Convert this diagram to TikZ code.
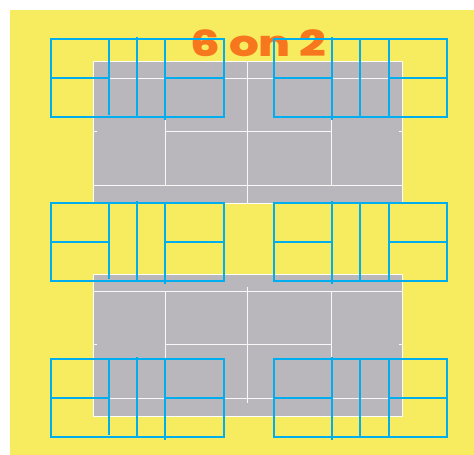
\documentclass[tikz,border=0pt]{standalone}
\usepackage{fontspec}
\newfontfamily\titlefont[FakeStretch=1.3]{Poppins ExtraBold}
\definecolor{fieldyellow}{HTML}{F7EC5F}
\definecolor{courtgray}{HTML}{B9B7BB}
\definecolor{gridblue}{HTML}{00AEEF}
\definecolor{titleorange}{HTML}{F7771F}
\newcommand\gridH[3]{\fill[gridbar] (#1,#3) rectangle (#2,#3+2);}
\newcommand\gridV[3]{\fill[gridbar] (#1,#2) rectangle (#1+2,#3);}
\tikzset{
  field/.style={fill=fieldyellow,draw=none},
  court/.style={fill=courtgray,draw=white,line width=1pt},
  courtline/.style={draw=white!90!courtgray,line width=1pt},
  gridbar/.style={fill=gridblue,draw=none},
  pics/gridbox/.style={code={
    \gridH{0}{175}{0}
    \gridH{0}{175}{78}
    \gridH{0}{60}{39}
    \gridH{114}{175}{39}
    \gridV{0}{0}{80}
    \gridV{173}{0}{80}
    \gridV{58}{0}{77}
    \gridV{86}{-1}{80}
    \gridV{114}{0}{82}
  }},
  pics/gridboxr/.style={code={
    \gridH{0}{175}{0}
    \gridH{0}{175}{78}
    \gridH{0}{60}{39}
    \gridH{115}{175}{39}
    \gridV{0}{0}{80}
    \gridV{173}{0}{80}
    \gridV{58}{-1}{82}
    \gridV{86}{0}{80}
    \gridV{115}{0}{80}
  }}
}
\begin{document}
\begin{tikzpicture}[x=1pt,y=-1pt]
\useasboundingbox (0,0) rectangle (474,455);
\fill[field] (10,10) rectangle (474,455);
% upper court
\draw[court] (93.8,61) rectangle (402,203);
\draw[courtline] (94,78) -- (402,78);
\draw[courtline] (94,185) -- (402,185);
\draw[courtline] (165,118) -- (165,185);
\draw[courtline] (331,118) -- (331,185);
\draw[courtline] (165,131.5) -- (331,131.5);
\draw[courtline] (247.5,61) -- (247.5,203);
\draw[courtline] (94,131.5) -- (97,131.5);
\draw[courtline] (399,131.5) -- (402,131.5);
% lower court
\draw[court] (93.8,274) rectangle (402,416);
\draw[courtline] (94,291.3) -- (402,291.3);
\draw[courtline] (94,398) -- (402,398);
\draw[courtline] (165,291.3) -- (165,358);
\draw[courtline] (331,291.3) -- (331,358);
\draw[courtline] (165,344.3) -- (331,344.3);
\draw[courtline] (247.5,287) -- (247.5,403);
\draw[courtline] (94,344.3) -- (97,344.3);
\draw[courtline] (399,344.3) -- (402,344.3);
% title
\node[text=titleorange,font=\titlefont\fontsize{36}{36}\selectfont,inner sep=0pt,anchor=base] (title) at (258.5,56.5) {6 on 2};
% grids
\pic at (50,38) {gridbox};
\pic at (273,38) {gridboxr};
\pic at (50,202) {gridbox};
\pic at (273,202) {gridboxr};
\pic at (50,358) {gridbox};
\pic at (273,358) {gridboxr};
\end{tikzpicture}
\end{document}
